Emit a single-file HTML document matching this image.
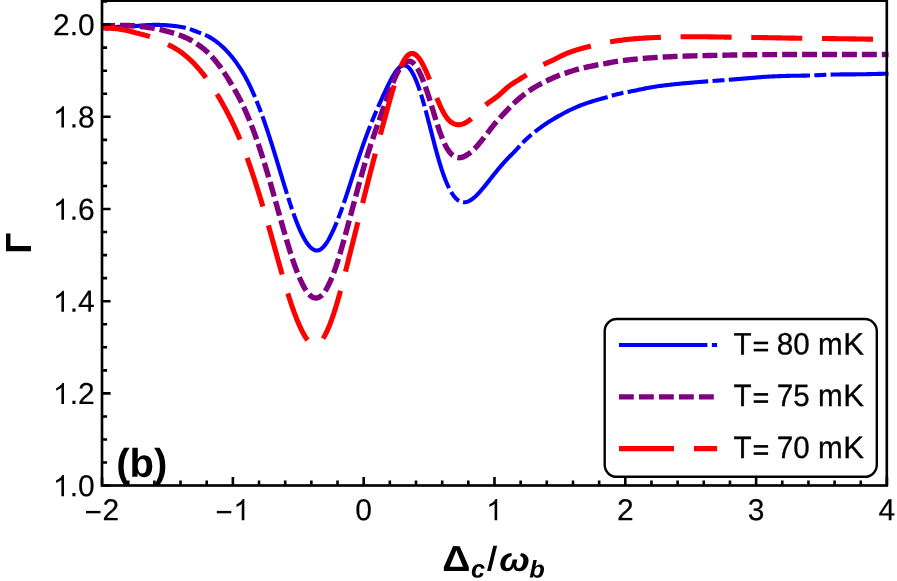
<!DOCTYPE html>
<html><head><meta charset="utf-8"><title>plot</title>
<style>html,body{margin:0;padding:0;background:#fff}svg{display:block;will-change:transform}text{font-family:"Liberation Sans",sans-serif}</style></head>
<body>
<svg width="897" height="581" viewBox="0 0 897 581">
<rect width="897" height="581" fill="#fff"/>
<defs><clipPath id="cp"><rect x="102.0" y="0" width="786.6999999999999" height="485.5"/></clipPath></defs>
<g clip-path="url(#cp)" fill="none" stroke-linejoin="round">
<path d="M100.50,29.48 L101.98,29.23 L103.47,28.99 L104.95,28.74 L106.43,28.50 L107.92,28.26 L109.40,28.03 L110.89,27.81 L112.38,27.59 L113.87,27.40 L115.36,27.21 L116.85,27.05 L118.35,26.91 L119.85,26.79 L121.35,26.69 L122.85,26.60 L124.35,26.53 L125.85,26.46 L127.35,26.40 L128.85,26.34 L130.36,26.29 L131.86,26.22 L133.36,26.16 L134.86,26.08 L136.36,25.99 L137.86,25.88 L139.36,25.76 L140.86,25.63 L142.35,25.50 L143.85,25.37 L145.35,25.25 L146.85,25.15 L148.35,25.06 L149.85,24.98 L151.35,24.93 L152.86,24.90 L154.36,24.88 L155.86,24.87 L157.36,24.88 L158.87,24.91 L160.37,24.95 L161.87,25.00 L163.37,25.07 L164.87,25.15 L166.37,25.25 L167.87,25.37 L169.37,25.49 L170.87,25.64 L172.36,25.79 L173.86,25.96 L175.35,26.15 L176.84,26.34 L178.33,26.55 L179.81,26.77 L181.30,27.00 L182.78,27.27 L184.25,27.57 L185.71,27.91 L187.17,28.30 L188.61,28.73 L190.04,29.19 L191.46,29.69 L192.87,30.20 L194.27,30.73 L195.68,31.27 L197.08,31.81 L198.48,32.35 L199.89,32.89 L201.29,33.42 L202.70,33.96 L204.09,34.52 L205.47,35.11 L206.84,35.73 L208.19,36.40 L209.51,37.12 L210.81,37.87 L212.09,38.65 L213.35,39.47 L214.59,40.32 L215.81,41.20 L217.01,42.11 L218.19,43.04 L219.35,44.00 L220.49,44.97 L221.61,45.97 L222.72,46.99 L223.81,48.03 L224.88,49.08 L225.93,50.15 L226.97,51.24 L227.99,52.34 L229.00,53.46 L229.99,54.59 L230.96,55.73 L231.92,56.89 L232.87,58.06 L233.80,59.24 L234.71,60.44 L235.61,61.64 L236.49,62.86 L237.36,64.09 L238.21,65.32 L239.05,66.57 L239.88,67.83 L240.69,69.09 L241.48,70.37 L242.27,71.65 L243.04,72.94 L243.79,74.24 L244.54,75.55 L245.27,76.86 L245.99,78.18 L246.69,79.51 L247.39,80.84 L248.07,82.18 L248.75,83.52 L249.41,84.87 L250.07,86.22 L250.72,87.58 L251.35,88.94 L251.98,90.30 L252.60,91.67 L253.22,93.05 L253.82,94.42 L254.42,95.80 L255.01,97.18 L255.59,98.57 L256.17,99.96 L256.74,101.35 L257.30,102.74 L257.86,104.14 L258.41,105.54 L258.95,106.94 L259.49,108.34 L260.02,109.75 L260.55,111.15 L261.07,112.56 L261.59,113.97 L262.11,115.39 L262.62,116.80 L263.12,118.22 L263.62,119.63 L264.12,121.05 L264.62,122.47 L265.11,123.89 L265.59,125.31 L266.08,126.74 L266.56,128.16 L267.04,129.58 L267.51,131.01 L267.99,132.44 L268.46,133.86 L268.92,135.29 L269.39,136.72 L269.85,138.15 L270.31,139.58 L270.77,141.02 L271.22,142.45 L271.67,143.88 L272.13,145.32 L272.58,146.75 L273.02,148.19 L273.47,149.62 L273.91,151.06 L274.36,152.49 L274.80,153.93 L275.24,155.37 L275.68,156.80 L276.12,158.24 L276.56,159.68 L276.99,161.12 L277.43,162.56 L277.87,163.99 L278.30,165.43 L278.74,166.87 L279.17,168.31 L279.61,169.75 L280.04,171.19 L280.48,172.63 L280.91,174.06 L281.35,175.50 L281.79,176.94 L282.22,178.38 L282.66,179.82 L283.10,181.26 L283.53,182.69 L283.97,184.13 L284.41,185.57 L284.86,187.01 L285.30,188.44 L285.74,189.88 L286.19,191.31 L286.64,192.75 L287.09,194.18 L287.54,195.61 L288.00,197.05 L288.46,198.48 L288.92,199.91 L289.38,201.34 L289.85,202.77 L290.31,204.20 L290.79,205.62 L291.26,207.05 L291.74,208.47 L292.23,209.90 L292.72,211.32 L293.21,212.74 L293.71,214.15 L294.22,215.57 L294.73,216.98 L295.25,218.39 L295.78,219.80 L296.31,221.21 L296.85,222.61 L297.41,224.00 L297.97,225.40 L298.55,226.79 L299.13,228.17 L299.73,229.55 L300.35,230.92 L300.98,232.29 L301.62,233.64 L302.29,234.99 L302.97,236.33 L303.68,237.65 L304.42,238.97 L305.18,240.26 L305.97,241.54 L306.80,242.79 L307.67,244.02 L308.59,245.20 L309.57,246.35 L310.61,247.43 L311.73,248.43 L312.95,249.31 L314.28,250.01 L315.71,250.47 L317.20,250.57 L318.68,250.30 L320.05,249.70 L321.31,248.88 L322.46,247.91 L323.51,246.84 L324.49,245.70 L325.40,244.51 L326.27,243.28 L327.09,242.02 L327.88,240.74 L328.64,239.44 L329.37,238.13 L330.08,236.80 L330.77,235.47 L331.44,234.12 L332.10,232.77 L332.74,231.41 L333.37,230.04 L333.98,228.67 L334.59,227.30 L335.18,225.92 L335.77,224.53 L336.34,223.15 L336.91,221.75 L337.47,220.36 L338.03,218.96 L338.57,217.56 L339.11,216.16 L339.64,214.75 L340.17,213.35 L340.69,211.94 L341.21,210.52 L341.72,209.11 L342.22,207.69 L342.72,206.28 L343.22,204.86 L343.71,203.44 L344.20,202.02 L344.68,200.59 L345.16,199.17 L345.64,197.74 L346.12,196.32 L346.59,194.89 L347.06,193.46 L347.53,192.03 L347.99,190.61 L348.46,189.18 L348.92,187.75 L349.39,186.32 L349.85,184.89 L350.31,183.46 L350.78,182.03 L351.24,180.60 L351.70,179.17 L352.16,177.73 L352.62,176.30 L353.08,174.87 L353.55,173.44 L354.01,172.01 L354.47,170.58 L354.94,169.16 L355.41,167.73 L355.87,166.30 L356.34,164.87 L356.81,163.44 L357.28,162.01 L357.76,160.59 L358.23,159.16 L358.71,157.74 L359.19,156.31 L359.67,154.89 L360.15,153.46 L360.63,152.04 L361.12,150.62 L361.61,149.20 L362.10,147.78 L362.60,146.36 L363.10,144.94 L363.60,143.52 L364.10,142.11 L364.61,140.69 L365.12,139.28 L365.63,137.87 L366.15,136.45 L366.67,135.05 L367.20,133.64 L367.73,132.23 L368.26,130.82 L368.80,129.42 L369.34,128.02 L369.89,126.62 L370.44,125.22 L371.00,123.83 L371.56,122.43 L372.13,121.04 L372.70,119.65 L373.28,118.26 L373.85,116.87 L374.44,115.49 L375.02,114.10 L375.61,112.72 L376.21,111.34 L376.80,109.96 L377.40,108.58 L378.00,107.20 L378.60,105.83 L379.21,104.45 L379.82,103.08 L380.42,101.70 L381.04,100.33 L381.65,98.96 L382.27,97.59 L382.89,96.22 L383.52,94.85 L384.15,93.49 L384.78,92.12 L385.42,90.76 L386.06,89.40 L386.71,88.05 L387.36,86.69 L388.02,85.34 L388.69,84.00 L389.37,82.65 L390.05,81.32 L390.75,79.99 L391.46,78.66 L392.19,77.35 L392.94,76.04 L393.71,74.75 L394.51,73.48 L395.34,72.23 L396.21,71.00 L397.13,69.81 L398.11,68.68 L399.18,67.62 L400.35,66.67 L401.64,65.91 L403.05,65.41 L404.55,65.33 L406.00,65.68 L407.32,66.41 L408.48,67.36 L409.51,68.45 L410.44,69.63 L411.29,70.87 L412.08,72.15 L412.82,73.46 L413.51,74.79 L414.18,76.14 L414.81,77.50 L415.41,78.88 L416.00,80.26 L416.56,81.66 L417.11,83.06 L417.64,84.46 L418.16,85.88 L418.66,87.29 L419.15,88.71 L419.64,90.14 L420.11,91.56 L420.57,92.99 L421.03,94.42 L421.47,95.86 L421.92,97.30 L422.35,98.74 L422.78,100.18 L423.20,101.62 L423.62,103.06 L424.03,104.51 L424.44,105.96 L424.84,107.40 L425.24,108.85 L425.64,110.30 L426.03,111.75 L426.42,113.20 L426.80,114.66 L427.19,116.11 L427.57,117.56 L427.95,119.02 L428.33,120.47 L428.71,121.93 L429.08,123.38 L429.46,124.84 L429.83,126.29 L430.21,127.75 L430.58,129.21 L430.95,130.66 L431.32,132.12 L431.70,133.58 L432.07,135.03 L432.44,136.49 L432.82,137.94 L433.19,139.40 L433.57,140.85 L433.95,142.31 L434.33,143.76 L434.71,145.22 L435.09,146.67 L435.48,148.12 L435.87,149.57 L436.26,151.03 L436.66,152.48 L437.06,153.92 L437.46,155.37 L437.87,156.82 L438.28,158.26 L438.70,159.71 L439.12,161.15 L439.55,162.59 L439.98,164.03 L440.42,165.47 L440.87,166.90 L441.32,168.34 L441.79,169.77 L442.26,171.19 L442.74,172.62 L443.24,174.04 L443.74,175.45 L444.26,176.86 L444.79,178.27 L445.33,179.67 L445.89,181.07 L446.47,182.45 L447.06,183.84 L447.67,185.21 L448.31,186.57 L448.97,187.92 L449.65,189.26 L450.37,190.58 L451.11,191.89 L451.90,193.17 L452.72,194.43 L453.59,195.65 L454.52,196.83 L455.51,197.96 L456.58,199.02 L457.72,200.00 L458.96,200.85 L460.28,201.55 L461.70,202.05 L463.18,202.31 L464.68,202.31 L466.16,202.08 L467.60,201.64 L468.98,201.05 L470.30,200.34 L471.57,199.52 L472.78,198.64 L473.95,197.70 L475.09,196.71 L476.19,195.68 L477.25,194.63 L478.30,193.55 L479.32,192.45 L480.33,191.33 L481.32,190.20 L482.29,189.05 L483.26,187.90 L484.21,186.74 L485.16,185.58 L486.11,184.41 L487.05,183.23 L487.98,182.05 L488.91,180.88 L489.84,179.70 L490.77,178.51 L491.70,177.33 L492.64,176.15 L493.57,174.98 L494.51,173.80 L495.45,172.63 L496.39,171.46 L497.34,170.29 L498.29,169.13 L499.25,167.97 L500.22,166.82 L501.19,165.68 L502.17,164.54 L503.16,163.41 L504.17,162.29 L505.18,161.18 L506.21,160.08 L507.24,158.99 L508.29,157.91 L509.34,156.84 L510.40,155.77 L511.46,154.71 L512.52,153.64 L513.58,152.57 L514.63,151.50 L515.67,150.42 L516.70,149.32 L517.72,148.22 L518.73,147.10 L519.74,145.98 L520.74,144.87 L521.76,143.76 L522.78,142.66 L523.83,141.58 L524.89,140.52 L525.97,139.47 L527.07,138.45 L528.18,137.44 L529.31,136.45 L530.45,135.47 L531.61,134.50 L532.77,133.55 L533.94,132.61 L535.12,131.68 L536.30,130.75 L537.49,129.83 L538.69,128.92 L539.89,128.02 L541.10,127.13 L542.32,126.25 L543.55,125.38 L544.78,124.53 L546.03,123.68 L547.28,122.86 L548.55,122.04 L549.82,121.24 L551.10,120.45 L552.38,119.67 L553.67,118.90 L554.97,118.14 L556.27,117.39 L557.57,116.64 L558.88,115.90 L560.19,115.16 L561.51,114.43 L562.83,113.71 L564.15,113.00 L565.48,112.30 L566.82,111.61 L568.16,110.94 L569.51,110.27 L570.86,109.62 L572.23,108.99 L573.59,108.36 L574.97,107.76 L576.35,107.16 L577.73,106.58 L579.13,106.01 L580.52,105.45 L581.92,104.91 L583.33,104.38 L584.74,103.87 L586.16,103.36 L587.58,102.87 L589.00,102.39 L590.43,101.93 L591.87,101.47 L593.30,101.03 L594.74,100.60 L596.19,100.18 L597.63,99.77 L599.08,99.37 L600.53,98.97 L601.98,98.59 L603.44,98.20 L604.89,97.81 L606.34,97.41 L607.78,96.99 L609.21,96.54 L610.64,96.07 L612.07,95.61 L613.51,95.18 L614.96,94.78 L616.42,94.40 L617.88,94.04 L619.34,93.71 L620.81,93.39 L622.28,93.08 L623.75,92.79 L625.23,92.50 L626.71,92.21 L628.18,91.93 L629.66,91.64 L631.13,91.35 L632.60,91.05 L634.08,90.75 L635.55,90.44 L637.02,90.14 L638.49,89.83 L639.96,89.52 L641.44,89.22 L642.91,88.92 L644.38,88.62 L645.86,88.33 L647.33,88.04 L648.81,87.76 L650.29,87.49 L651.77,87.23 L653.25,86.98 L654.73,86.74 L656.22,86.51 L657.71,86.29 L659.19,86.08 L660.68,85.87 L662.17,85.68 L663.66,85.49 L665.16,85.30 L666.65,85.13 L668.14,84.95 L669.64,84.79 L671.13,84.62 L672.62,84.46 L674.12,84.30 L675.61,84.15 L677.11,84.00 L678.60,83.85 L680.10,83.70 L681.60,83.55 L683.09,83.41 L684.59,83.26 L686.09,83.12 L687.58,82.99 L689.08,82.85 L690.58,82.72 L692.07,82.59 L693.57,82.46 L695.07,82.33 L696.57,82.20 L698.06,82.08 L699.56,81.96 L701.06,81.84 L702.56,81.72 L704.06,81.61 L705.56,81.49 L707.06,81.38 L708.55,81.27 L710.05,81.15 L711.55,81.04 L713.05,80.93 L714.55,80.82 L716.05,80.71 L717.55,80.61 L719.05,80.50 L720.55,80.39 L722.05,80.28 L723.55,80.17 L725.04,80.06 L726.54,79.95 L728.04,79.84 L729.54,79.72 L731.04,79.61 L732.54,79.50 L734.04,79.38 L735.54,79.26 L737.03,79.14 L738.53,79.02 L740.03,78.89 L741.53,78.77 L743.03,78.64 L744.52,78.51 L746.02,78.38 L747.52,78.25 L749.02,78.11 L750.51,77.98 L752.01,77.85 L753.51,77.72 L755.01,77.60 L756.50,77.47 L758.00,77.35 L759.50,77.24 L761.00,77.12 L762.50,77.01 L764.00,76.91 L765.50,76.81 L767.00,76.72 L768.50,76.63 L770.00,76.55 L771.50,76.47 L773.00,76.40 L774.50,76.33 L776.00,76.26 L777.51,76.20 L779.01,76.15 L780.51,76.09 L782.01,76.04 L783.52,76.00 L785.02,75.96 L786.52,75.92 L788.02,75.88 L789.53,75.85 L791.03,75.82 L792.53,75.79 L794.03,75.76 L795.54,75.74 L797.04,75.72 L798.54,75.70 L800.05,75.68 L801.55,75.66 L803.05,75.64 L804.56,75.61 L806.06,75.58 L807.56,75.55 L809.06,75.51 L810.57,75.46 L812.07,75.41 L813.57,75.35 L815.07,75.29 L816.57,75.22 L818.08,75.16 L819.58,75.09 L821.08,75.02 L822.58,74.95 L824.08,74.88 L825.58,74.82 L827.08,74.76 L828.59,74.70 L830.09,74.64 L831.59,74.60 L833.09,74.55 L834.60,74.52 L836.10,74.49 L837.60,74.46 L839.10,74.44 L840.61,74.42 L842.11,74.40 L843.61,74.39 L845.12,74.38 L846.62,74.37 L848.12,74.37 L849.63,74.36 L851.13,74.35 L852.63,74.35 L854.14,74.34 L855.64,74.33 L857.14,74.32 L858.64,74.31 L860.15,74.30 L861.65,74.28 L863.15,74.26 L864.66,74.23 L866.16,74.20 L867.66,74.17 L869.16,74.14 L870.67,74.10 L872.17,74.06 L873.67,74.02 L875.18,73.98 L876.68,73.94 L878.18,73.90 L879.68,73.86 L881.19,73.83 L882.69,73.79 L884.19,73.76 L885.69,73.74 L887.20,73.71 L888.70,73.70" stroke="#0000ff" stroke-width="4.1" stroke-dasharray="81.4 4.3 12 4.3" stroke-dashoffset="-4.29"/>
<path d="M100.50,25.77 L102.00,25.75 L103.51,25.74 L105.01,25.73 L106.51,25.71 L108.02,25.69 L109.52,25.67 L111.02,25.65 L112.53,25.62 L114.03,25.59 L115.53,25.55 L117.04,25.52 L118.54,25.49 L120.04,25.46 L121.55,25.44 L123.05,25.43 L124.55,25.44 L126.06,25.45 L127.56,25.49 L129.06,25.54 L130.56,25.61 L132.06,25.70 L133.56,25.80 L135.06,25.92 L136.56,26.05 L138.06,26.20 L139.55,26.35 L141.05,26.52 L142.54,26.70 L144.03,26.89 L145.52,27.08 L147.01,27.28 L148.50,27.50 L149.99,27.72 L151.47,27.95 L152.96,28.19 L154.44,28.45 L155.91,28.72 L157.39,29.01 L158.86,29.31 L160.33,29.63 L161.80,29.97 L163.26,30.31 L164.72,30.68 L166.18,31.05 L167.63,31.44 L169.08,31.84 L170.52,32.25 L171.97,32.67 L173.40,33.11 L174.84,33.57 L176.27,34.03 L177.69,34.52 L179.11,35.02 L180.52,35.54 L181.92,36.07 L183.32,36.63 L184.71,37.20 L186.09,37.79 L187.46,38.41 L188.82,39.06 L190.15,39.75 L191.47,40.47 L192.77,41.23 L194.05,42.02 L195.32,42.83 L196.57,43.66 L197.81,44.51 L199.04,45.37 L200.26,46.25 L201.47,47.14 L202.67,48.06 L203.85,48.99 L205.01,49.94 L206.14,50.93 L207.26,51.94 L208.34,52.98 L209.41,54.04 L210.45,55.12 L211.48,56.22 L212.48,57.34 L213.47,58.47 L214.45,59.61 L215.41,60.77 L216.36,61.94 L217.29,63.11 L218.22,64.30 L219.13,65.50 L220.02,66.70 L220.91,67.92 L221.77,69.15 L222.63,70.38 L223.48,71.62 L224.31,72.87 L225.14,74.13 L225.96,75.39 L226.77,76.65 L227.58,77.92 L228.38,79.20 L229.17,80.47 L229.96,81.75 L230.74,83.04 L231.52,84.33 L232.29,85.62 L233.05,86.91 L233.81,88.21 L234.55,89.52 L235.30,90.82 L236.04,92.13 L236.77,93.45 L237.49,94.77 L238.20,96.09 L238.91,97.42 L239.61,98.75 L240.30,100.08 L240.98,101.43 L241.65,102.77 L242.31,104.12 L242.96,105.47 L243.61,106.83 L244.24,108.20 L244.87,109.56 L245.49,110.93 L246.10,112.31 L246.70,113.68 L247.30,115.06 L247.88,116.45 L248.47,117.83 L249.04,119.22 L249.61,120.61 L250.17,122.01 L250.73,123.41 L251.27,124.81 L251.82,126.21 L252.36,127.61 L252.89,129.02 L253.41,130.43 L253.94,131.84 L254.45,133.25 L254.97,134.66 L255.47,136.08 L255.98,137.49 L256.48,138.91 L256.97,140.33 L257.46,141.75 L257.95,143.17 L258.44,144.60 L258.92,146.02 L259.39,147.45 L259.87,148.87 L260.34,150.30 L260.80,151.73 L261.27,153.16 L261.73,154.59 L262.19,156.02 L262.64,157.46 L263.10,158.89 L263.55,160.32 L263.99,161.76 L264.44,163.19 L264.88,164.63 L265.32,166.07 L265.76,167.51 L266.20,168.95 L266.63,170.39 L267.06,171.83 L267.49,173.27 L267.92,174.71 L268.35,176.15 L268.77,177.59 L269.20,179.03 L269.62,180.48 L270.04,181.92 L270.46,183.36 L270.88,184.81 L271.29,186.25 L271.71,187.70 L272.12,189.14 L272.53,190.59 L272.94,192.04 L273.35,193.48 L273.76,194.93 L274.17,196.38 L274.58,197.82 L274.98,199.27 L275.39,200.72 L275.80,202.17 L276.20,203.61 L276.61,205.06 L277.02,206.51 L277.42,207.95 L277.83,209.40 L278.24,210.85 L278.64,212.30 L279.05,213.74 L279.46,215.19 L279.87,216.64 L280.28,218.08 L280.69,219.53 L281.10,220.98 L281.51,222.42 L281.92,223.87 L282.33,225.32 L282.74,226.76 L283.16,228.21 L283.57,229.65 L283.99,231.10 L284.41,232.54 L284.82,233.98 L285.24,235.43 L285.67,236.87 L286.09,238.31 L286.52,239.76 L286.94,241.20 L287.37,242.64 L287.80,244.08 L288.24,245.52 L288.68,246.95 L289.12,248.39 L289.56,249.83 L290.01,251.26 L290.46,252.70 L290.92,254.13 L291.37,255.56 L291.84,256.99 L292.31,258.42 L292.78,259.85 L293.26,261.27 L293.75,262.69 L294.24,264.11 L294.75,265.53 L295.26,266.95 L295.77,268.36 L296.30,269.77 L296.84,271.17 L297.38,272.57 L297.94,273.97 L298.51,275.36 L299.09,276.74 L299.69,278.13 L300.29,279.50 L300.92,280.87 L301.55,282.23 L302.21,283.58 L302.89,284.92 L303.59,286.25 L304.32,287.57 L305.08,288.87 L305.88,290.14 L306.72,291.39 L307.61,292.60 L308.56,293.77 L309.58,294.87 L310.69,295.88 L311.90,296.77 L313.22,297.48 L314.66,297.93 L316.15,298.05 L317.63,297.82 L319.03,297.26 L320.30,296.47 L321.46,295.51 L322.51,294.43 L323.48,293.29 L324.38,292.08 L325.23,290.84 L326.03,289.57 L326.80,288.28 L327.53,286.96 L328.23,285.63 L328.90,284.29 L329.55,282.93 L330.18,281.57 L330.79,280.19 L331.38,278.81 L331.96,277.42 L332.52,276.03 L333.07,274.63 L333.60,273.22 L334.12,271.81 L334.63,270.40 L335.12,268.98 L335.61,267.55 L336.09,266.13 L336.56,264.70 L337.02,263.27 L337.48,261.84 L337.93,260.41 L338.38,258.97 L338.82,257.53 L339.26,256.09 L339.69,254.65 L340.12,253.21 L340.55,251.77 L340.97,250.33 L341.39,248.89 L341.81,247.44 L342.23,246.00 L342.64,244.55 L343.05,243.11 L343.46,241.66 L343.87,240.21 L344.28,238.77 L344.68,237.32 L345.08,235.87 L345.48,234.42 L345.88,232.97 L346.28,231.52 L346.67,230.07 L347.07,228.62 L347.46,227.17 L347.85,225.72 L348.24,224.26 L348.63,222.81 L349.02,221.36 L349.41,219.91 L349.80,218.46 L350.19,217.00 L350.58,215.55 L350.96,214.10 L351.35,212.64 L351.74,211.19 L352.12,209.74 L352.51,208.29 L352.90,206.83 L353.28,205.38 L353.67,203.93 L354.06,202.48 L354.45,201.02 L354.83,199.57 L355.22,198.12 L355.61,196.67 L356.00,195.21 L356.39,193.76 L356.78,192.31 L357.18,190.86 L357.57,189.41 L357.97,187.96 L358.36,186.51 L358.76,185.06 L359.16,183.61 L359.56,182.16 L359.96,180.71 L360.37,179.26 L360.77,177.81 L361.18,176.37 L361.59,174.92 L362.00,173.47 L362.41,172.03 L362.83,170.58 L363.24,169.14 L363.66,167.70 L364.09,166.25 L364.51,164.81 L364.94,163.37 L365.37,161.93 L365.80,160.49 L366.23,159.05 L366.67,157.61 L367.11,156.17 L367.56,154.74 L368.00,153.30 L368.45,151.87 L368.91,150.43 L369.36,149.00 L369.82,147.57 L370.29,146.14 L370.76,144.71 L371.23,143.28 L371.70,141.86 L372.18,140.43 L372.66,139.01 L373.14,137.58 L373.63,136.16 L374.12,134.74 L374.61,133.32 L375.10,131.90 L375.59,130.48 L376.09,129.06 L376.58,127.64 L377.08,126.22 L377.58,124.80 L378.08,123.38 L378.58,121.97 L379.08,120.55 L379.58,119.13 L380.08,117.71 L380.58,116.29 L381.08,114.88 L381.58,113.46 L382.08,112.04 L382.58,110.62 L383.09,109.21 L383.59,107.79 L384.09,106.37 L384.59,104.96 L385.10,103.54 L385.60,102.12 L386.11,100.71 L386.62,99.29 L387.13,97.88 L387.65,96.47 L388.16,95.06 L388.68,93.65 L389.21,92.24 L389.74,90.83 L390.27,89.42 L390.81,88.02 L391.35,86.62 L391.90,85.22 L392.46,83.82 L393.03,82.43 L393.61,81.04 L394.19,79.66 L394.79,78.28 L395.41,76.91 L396.04,75.54 L396.69,74.19 L397.36,72.84 L398.06,71.51 L398.79,70.20 L399.55,68.90 L400.36,67.64 L401.22,66.40 L402.14,65.22 L403.14,64.09 L404.23,63.06 L405.44,62.16 L406.77,61.48 L408.23,61.11 L409.72,61.17 L411.15,61.63 L412.43,62.41 L413.58,63.38 L414.62,64.47 L415.56,65.64 L416.43,66.87 L417.24,68.13 L418.00,69.43 L418.72,70.75 L419.40,72.09 L420.06,73.44 L420.69,74.81 L421.30,76.18 L421.89,77.56 L422.46,78.95 L423.02,80.35 L423.57,81.75 L424.10,83.15 L424.62,84.56 L425.13,85.98 L425.63,87.40 L426.13,88.82 L426.61,90.24 L427.09,91.66 L427.57,93.09 L428.04,94.52 L428.50,95.95 L428.96,97.38 L429.41,98.81 L429.86,100.25 L430.31,101.68 L430.75,103.12 L431.19,104.56 L431.63,106.00 L432.07,107.43 L432.51,108.87 L432.95,110.31 L433.39,111.75 L433.82,113.19 L434.26,114.62 L434.70,116.06 L435.15,117.50 L435.59,118.93 L436.04,120.37 L436.49,121.80 L436.95,123.24 L437.41,124.67 L437.87,126.10 L438.34,127.52 L438.82,128.95 L439.31,130.37 L439.80,131.79 L440.31,133.21 L440.82,134.62 L441.35,136.03 L441.90,137.43 L442.46,138.83 L443.03,140.21 L443.63,141.59 L444.25,142.96 L444.90,144.32 L445.57,145.66 L446.28,146.99 L447.03,148.29 L447.81,149.57 L448.65,150.82 L449.55,152.03 L450.51,153.19 L451.55,154.27 L452.68,155.26 L453.91,156.13 L455.23,156.84 L456.64,157.35 L458.12,157.64 L459.62,157.69 L461.11,157.52 L462.56,157.15 L463.97,156.62 L465.32,155.95 L466.62,155.20 L467.87,154.37 L469.10,153.50 L470.29,152.58 L471.44,151.62 L472.57,150.62 L473.66,149.59 L474.73,148.53 L475.77,147.44 L476.78,146.33 L477.77,145.20 L478.75,144.06 L479.71,142.90 L480.66,141.74 L481.60,140.56 L482.53,139.39 L483.47,138.21 L484.39,137.02 L485.32,135.84 L486.24,134.65 L487.16,133.47 L488.08,132.28 L489.00,131.09 L489.93,129.90 L490.85,128.71 L491.77,127.53 L492.70,126.35 L493.64,125.17 L494.59,124.01 L495.56,122.85 L496.53,121.71 L497.52,120.58 L498.52,119.45 L499.53,118.34 L500.54,117.23 L501.56,116.12 L502.57,115.01 L503.60,113.91 L504.62,112.81 L505.65,111.71 L506.68,110.62 L507.71,109.53 L508.76,108.44 L509.80,107.36 L510.85,106.29 L511.91,105.22 L512.98,104.17 L514.07,103.13 L515.17,102.11 L516.29,101.10 L517.42,100.10 L518.55,99.12 L519.70,98.14 L520.85,97.18 L522.01,96.22 L523.17,95.27 L524.35,94.34 L525.54,93.42 L526.75,92.52 L527.97,91.65 L529.20,90.79 L530.45,89.95 L531.71,89.13 L532.98,88.33 L534.27,87.54 L535.56,86.77 L536.86,86.01 L538.16,85.27 L539.48,84.54 L540.80,83.82 L542.13,83.12 L543.47,82.43 L544.81,81.76 L546.16,81.10 L547.51,80.45 L548.87,79.81 L550.24,79.18 L551.61,78.56 L552.98,77.94 L554.36,77.33 L555.73,76.73 L557.12,76.15 L558.51,75.57 L559.91,75.02 L561.31,74.49 L562.73,73.98 L564.16,73.51 L565.59,73.07 L567.03,72.63 L568.46,72.16 L569.88,71.68 L571.30,71.19 L572.73,70.71 L574.17,70.26 L575.61,69.84 L577.06,69.43 L578.51,69.05 L579.97,68.68 L581.43,68.33 L582.89,67.98 L584.36,67.65 L585.82,67.32 L587.29,67.00 L588.76,66.68 L590.23,66.37 L591.71,66.07 L593.18,65.77 L594.65,65.48 L596.13,65.20 L597.61,64.92 L599.09,64.65 L600.57,64.39 L602.05,64.12 L603.53,63.85 L605.01,63.58 L606.48,63.30 L607.96,63.02 L609.44,62.74 L610.91,62.46 L612.39,62.19 L613.87,61.93 L615.36,61.69 L616.84,61.45 L618.33,61.22 L619.82,61.00 L621.30,60.79 L622.79,60.59 L624.28,60.40 L625.78,60.21 L627.27,60.03 L628.76,59.86 L630.26,59.69 L631.75,59.53 L633.25,59.37 L634.74,59.22 L636.24,59.08 L637.74,58.93 L639.23,58.79 L640.73,58.66 L642.23,58.53 L643.73,58.40 L645.22,58.28 L646.72,58.16 L648.22,58.04 L649.72,57.93 L651.22,57.82 L652.72,57.71 L654.22,57.61 L655.72,57.51 L657.22,57.42 L658.72,57.32 L660.22,57.23 L661.72,57.15 L663.22,57.06 L664.72,56.98 L666.23,56.90 L667.73,56.83 L669.23,56.75 L670.73,56.68 L672.23,56.61 L673.73,56.55 L675.24,56.48 L676.74,56.42 L678.24,56.36 L679.74,56.30 L681.25,56.25 L682.75,56.19 L684.25,56.14 L685.75,56.09 L687.26,56.04 L688.76,56.00 L690.26,55.95 L691.76,55.91 L693.27,55.87 L694.77,55.83 L696.27,55.79 L697.78,55.75 L699.28,55.71 L700.78,55.68 L702.28,55.65 L703.79,55.61 L705.29,55.58 L706.79,55.55 L708.30,55.51 L709.80,55.48 L711.30,55.45 L712.81,55.42 L714.31,55.39 L715.81,55.36 L717.32,55.33 L718.82,55.30 L720.32,55.27 L721.83,55.24 L723.33,55.21 L724.83,55.18 L726.33,55.15 L727.84,55.12 L729.34,55.09 L730.84,55.06 L732.35,55.03 L733.85,55.01 L735.35,54.98 L736.86,54.95 L738.36,54.93 L739.86,54.90 L741.37,54.88 L742.87,54.86 L744.37,54.84 L745.88,54.82 L747.38,54.80 L748.88,54.78 L750.39,54.76 L751.89,54.74 L753.39,54.73 L754.90,54.71 L756.40,54.70 L757.90,54.68 L759.41,54.67 L760.91,54.66 L762.41,54.65 L763.92,54.64 L765.42,54.63 L766.92,54.62 L768.43,54.61 L769.93,54.60 L771.43,54.59 L772.94,54.58 L774.44,54.58 L775.94,54.57 L777.45,54.56 L778.95,54.56 L780.45,54.55 L781.96,54.55 L783.46,54.54 L784.96,54.54 L786.47,54.53 L787.97,54.53 L789.47,54.52 L790.98,54.52 L792.48,54.52 L793.98,54.51 L795.49,54.51 L796.99,54.51 L798.49,54.50 L800.00,54.50 L801.50,54.50 L803.00,54.49 L804.51,54.49 L806.01,54.49 L807.52,54.48 L809.02,54.48 L810.52,54.48 L812.03,54.48 L813.53,54.47 L815.03,54.47 L816.54,54.47 L818.04,54.46 L819.54,54.46 L821.05,54.46 L822.55,54.46 L824.05,54.46 L825.56,54.45 L827.06,54.45 L828.56,54.45 L830.07,54.45 L831.57,54.45 L833.07,54.45 L834.58,54.45 L836.08,54.45 L837.58,54.45 L839.09,54.45 L840.59,54.45 L842.09,54.45 L843.60,54.45 L845.10,54.45 L846.60,54.45 L848.11,54.45 L849.61,54.45 L851.11,54.45 L852.62,54.45 L854.12,54.45 L855.62,54.45 L857.13,54.45 L858.63,54.45 L860.13,54.45 L861.64,54.45 L863.14,54.45 L864.65,54.45 L866.15,54.45 L867.65,54.45 L869.16,54.45 L870.66,54.45 L872.16,54.45 L873.67,54.45 L875.17,54.45 L876.67,54.45 L878.18,54.45 L879.68,54.45 L881.18,54.45 L882.69,54.45 L884.19,54.45 L885.69,54.45 L887.20,54.45 L888.70,54.45" stroke="#800080" stroke-width="5.4" stroke-dasharray="15 4.93" stroke-dashoffset="0.41"/>
<path d="M100.50,27.84 L102.00,27.89 L103.50,27.94 L105.01,27.99 L106.51,28.04 L108.01,28.10 L109.51,28.17 L111.01,28.25 L112.51,28.34 L114.01,28.45 L115.51,28.59 L117.00,28.74 L118.49,28.92 L119.98,29.13 L121.47,29.37 L122.94,29.64 L124.42,29.94 L125.89,30.26 L127.35,30.60 L128.81,30.96 L130.26,31.34 L131.72,31.72 L133.17,32.11 L134.62,32.49 L136.08,32.87 L137.53,33.25 L138.98,33.63 L140.44,34.01 L141.90,34.38 L143.35,34.75 L144.81,35.12 L146.26,35.51 L147.71,35.92 L149.14,36.35 L150.57,36.82 L151.99,37.31 L153.40,37.83 L154.80,38.38 L156.20,38.94 L157.58,39.53 L158.95,40.14 L160.32,40.76 L161.68,41.40 L163.04,42.05 L164.39,42.71 L165.73,43.38 L167.07,44.06 L168.41,44.74 L169.75,45.43 L171.08,46.13 L172.40,46.85 L173.71,47.58 L175.01,48.33 L176.30,49.10 L177.58,49.89 L178.84,50.71 L180.08,51.56 L181.31,52.43 L182.52,53.32 L183.71,54.23 L184.89,55.17 L186.05,56.12 L187.19,57.10 L188.32,58.09 L189.43,59.10 L190.53,60.12 L191.62,61.16 L192.69,62.22 L193.74,63.29 L194.79,64.37 L195.81,65.47 L196.83,66.57 L197.83,67.70 L198.82,68.83 L199.79,69.97 L200.76,71.13 L201.71,72.29 L202.65,73.46 L203.58,74.64 L204.49,75.83 L205.40,77.03 L206.30,78.23 L207.20,79.44 L208.08,80.66 L208.95,81.88 L209.81,83.11 L210.67,84.35 L211.51,85.59 L212.35,86.84 L213.18,88.09 L214.00,89.36 L214.80,90.62 L215.60,91.89 L216.39,93.17 L217.18,94.46 L217.95,95.74 L218.72,97.04 L219.47,98.34 L220.22,99.64 L220.97,100.94 L221.71,102.25 L222.44,103.56 L223.17,104.88 L223.90,106.19 L224.62,107.51 L225.34,108.83 L226.05,110.15 L226.76,111.48 L227.46,112.81 L228.16,114.14 L228.85,115.47 L229.54,116.81 L230.22,118.15 L230.90,119.49 L231.57,120.84 L232.23,122.18 L232.89,123.54 L233.54,124.89 L234.18,126.25 L234.81,127.61 L235.44,128.98 L236.06,130.35 L236.68,131.72 L237.29,133.09 L237.89,134.47 L238.48,135.85 L239.07,137.23 L239.65,138.62 L240.23,140.00 L240.80,141.40 L241.36,142.79 L241.92,144.18 L242.48,145.58 L243.02,146.98 L243.57,148.38 L244.10,149.79 L244.64,151.19 L245.16,152.60 L245.69,154.01 L246.21,155.42 L246.72,156.83 L247.23,158.24 L247.74,159.66 L248.24,161.07 L248.73,162.49 L249.23,163.91 L249.72,165.33 L250.21,166.75 L250.69,168.18 L251.17,169.60 L251.65,171.02 L252.13,172.45 L252.61,173.88 L253.08,175.30 L253.55,176.73 L254.02,178.16 L254.48,179.59 L254.95,181.02 L255.41,182.45 L255.87,183.88 L256.33,185.31 L256.78,186.74 L257.24,188.17 L257.69,189.60 L258.14,191.04 L258.59,192.47 L259.04,193.91 L259.49,195.34 L259.93,196.78 L260.37,198.21 L260.82,199.65 L261.26,201.09 L261.69,202.53 L262.13,203.96 L262.56,205.40 L263.00,206.84 L263.43,208.28 L263.86,209.72 L264.28,211.16 L264.71,212.60 L265.13,214.05 L265.56,215.49 L265.98,216.93 L266.40,218.37 L266.81,219.82 L267.23,221.26 L267.65,222.71 L268.06,224.15 L268.47,225.60 L268.88,227.04 L269.29,228.49 L269.70,229.93 L270.11,231.38 L270.51,232.83 L270.92,234.27 L271.32,235.72 L271.73,237.17 L272.13,238.62 L272.53,240.06 L272.94,241.51 L273.34,242.96 L273.74,244.41 L274.14,245.86 L274.54,247.30 L274.94,248.75 L275.35,250.20 L275.75,251.65 L276.15,253.10 L276.55,254.55 L276.95,255.99 L277.36,257.44 L277.76,258.89 L278.16,260.34 L278.57,261.78 L278.97,263.23 L279.38,264.68 L279.79,266.13 L280.19,267.57 L280.60,269.02 L281.01,270.46 L281.43,271.91 L281.84,273.35 L282.25,274.80 L282.67,276.24 L283.09,277.69 L283.51,279.13 L283.93,280.57 L284.36,282.01 L284.78,283.45 L285.21,284.89 L285.64,286.33 L286.08,287.77 L286.52,289.21 L286.96,290.65 L287.40,292.08 L287.85,293.52 L288.30,294.95 L288.75,296.38 L289.21,297.82 L289.67,299.25 L290.14,300.67 L290.61,302.10 L291.09,303.53 L291.57,304.95 L292.05,306.37 L292.55,307.79 L293.05,309.21 L293.55,310.62 L294.06,312.04 L294.58,313.45 L295.11,314.85 L295.65,316.26 L296.19,317.66 L296.74,319.06 L297.31,320.45 L297.88,321.84 L298.46,323.22 L299.06,324.60 L299.67,325.98 L300.29,327.35 L300.93,328.71 L301.58,330.06 L302.25,331.40 L302.95,332.74 L303.66,334.06 L304.40,335.37 L305.17,336.66 L305.98,337.92 L306.84,339.16 L307.75,340.36 L308.72,341.50 L309.78,342.56 L310.95,343.51 L312.24,344.28 L313.65,344.78 L315.14,344.91 L316.61,344.62 L317.97,343.98 L319.19,343.10 L320.28,342.07 L321.28,340.95 L322.19,339.75 L323.04,338.51 L323.83,337.24 L324.58,335.93 L325.29,334.61 L325.98,333.27 L326.63,331.92 L327.27,330.56 L327.88,329.19 L328.48,327.81 L329.06,326.42 L329.62,325.03 L330.17,323.63 L330.71,322.23 L331.23,320.82 L331.75,319.40 L332.25,317.99 L332.75,316.57 L333.23,315.15 L333.71,313.72 L334.18,312.29 L334.64,310.86 L335.09,309.43 L335.54,308.00 L335.98,306.56 L336.42,305.12 L336.85,303.68 L337.28,302.24 L337.70,300.80 L338.11,299.35 L338.52,297.91 L338.93,296.46 L339.34,295.02 L339.74,293.57 L340.13,292.12 L340.53,290.67 L340.92,289.22 L341.31,287.76 L341.69,286.31 L342.08,284.86 L342.46,283.40 L342.84,281.95 L343.21,280.50 L343.59,279.04 L343.96,277.58 L344.34,276.13 L344.71,274.67 L345.08,273.22 L345.45,271.76 L345.81,270.30 L346.18,268.85 L346.55,267.39 L346.91,265.93 L347.28,264.47 L347.65,263.01 L348.01,261.56 L348.38,260.10 L348.74,258.64 L349.11,257.18 L349.47,255.73 L349.84,254.27 L350.20,252.81 L350.57,251.35 L350.94,249.89 L351.30,248.44 L351.67,246.98 L352.03,245.52 L352.40,244.07 L352.77,242.61 L353.13,241.15 L353.50,239.69 L353.87,238.24 L354.23,236.78 L354.60,235.32 L354.96,233.86 L355.33,232.40 L355.70,230.95 L356.06,229.49 L356.43,228.03 L356.79,226.57 L357.15,225.11 L357.52,223.66 L357.88,222.20 L358.24,220.74 L358.61,219.28 L358.97,217.82 L359.33,216.36 L359.69,214.91 L360.06,213.45 L360.42,211.99 L360.78,210.53 L361.14,209.07 L361.51,207.61 L361.87,206.15 L362.23,204.70 L362.59,203.24 L362.96,201.78 L363.32,200.32 L363.68,198.86 L364.05,197.41 L364.41,195.95 L364.78,194.49 L365.14,193.03 L365.51,191.57 L365.87,190.12 L366.24,188.66 L366.61,187.20 L366.98,185.74 L367.35,184.29 L367.72,182.83 L368.09,181.38 L368.46,179.92 L368.83,178.46 L369.21,177.01 L369.58,175.55 L369.95,174.10 L370.33,172.64 L370.71,171.19 L371.08,169.73 L371.46,168.28 L371.84,166.82 L372.22,165.37 L372.60,163.91 L372.98,162.46 L373.36,161.01 L373.74,159.55 L374.13,158.10 L374.51,156.65 L374.89,155.19 L375.28,153.74 L375.66,152.29 L376.05,150.84 L376.43,149.38 L376.82,147.93 L377.21,146.48 L377.60,145.03 L377.98,143.58 L378.37,142.12 L378.76,140.67 L379.15,139.22 L379.54,137.77 L379.93,136.32 L380.32,134.87 L380.71,133.42 L381.11,131.96 L381.50,130.51 L381.89,129.06 L382.28,127.61 L382.68,126.16 L383.07,124.71 L383.46,123.26 L383.86,121.81 L384.25,120.36 L384.65,118.91 L385.05,117.46 L385.44,116.01 L385.84,114.56 L386.24,113.11 L386.64,111.67 L387.04,110.22 L387.44,108.77 L387.84,107.32 L388.25,105.87 L388.65,104.43 L389.06,102.98 L389.47,101.53 L389.88,100.09 L390.29,98.64 L390.71,97.20 L391.13,95.75 L391.55,94.31 L391.97,92.87 L392.39,91.43 L392.82,89.99 L393.26,88.55 L393.69,87.11 L394.14,85.67 L394.58,84.24 L395.03,82.81 L395.49,81.37 L395.95,79.94 L396.43,78.52 L396.90,77.09 L397.39,75.67 L397.89,74.25 L398.40,72.84 L398.92,71.43 L399.46,70.03 L400.02,68.63 L400.59,67.24 L401.18,65.86 L401.81,64.49 L402.46,63.14 L403.15,61.80 L403.88,60.49 L404.66,59.21 L405.51,57.97 L406.43,56.78 L407.46,55.69 L408.61,54.72 L409.91,53.97 L411.35,53.55 L412.84,53.56 L414.28,54.00 L415.58,54.75 L416.74,55.69 L417.79,56.77 L418.75,57.92 L419.64,59.13 L420.47,60.39 L421.26,61.67 L422.00,62.97 L422.72,64.29 L423.41,65.63 L424.07,66.98 L424.72,68.33 L425.35,69.70 L425.97,71.07 L426.57,72.45 L427.16,73.83 L427.75,75.21 L428.32,76.60 L428.89,77.99 L429.45,79.38 L430.01,80.78 L430.57,82.17 L431.12,83.57 L431.67,84.97 L432.22,86.37 L432.77,87.77 L433.32,89.17 L433.87,90.57 L434.42,91.97 L434.97,93.36 L435.52,94.76 L436.08,96.15 L436.65,97.55 L437.21,98.94 L437.79,100.33 L438.37,101.71 L438.96,103.10 L439.57,104.47 L440.18,105.84 L440.81,107.21 L441.45,108.57 L442.12,109.91 L442.81,111.25 L443.52,112.57 L444.27,113.88 L445.05,115.16 L445.87,116.42 L446.74,117.64 L447.67,118.83 L448.66,119.96 L449.72,121.02 L450.87,121.99 L452.11,122.84 L453.43,123.55 L454.83,124.10 L456.28,124.47 L457.77,124.66 L459.27,124.66 L460.77,124.48 L462.23,124.14 L463.65,123.65 L465.02,123.04 L466.34,122.31 L467.61,121.51 L468.83,120.64 L470.02,119.72 L471.17,118.76 L472.30,117.76 L473.41,116.75 L474.50,115.71 L475.57,114.66 L476.64,113.60 L477.70,112.54 L478.76,111.48 L479.83,110.41 L480.89,109.36 L481.97,108.31 L483.06,107.28 L484.17,106.26 L485.31,105.27 L486.47,104.32 L487.65,103.40 L488.86,102.51 L490.09,101.64 L491.32,100.78 L492.56,99.93 L493.80,99.07 L495.02,98.20 L496.23,97.30 L497.42,96.38 L498.58,95.44 L499.72,94.46 L500.84,93.45 L501.93,92.42 L503.02,91.38 L504.10,90.34 L505.20,89.32 L506.33,88.32 L507.48,87.36 L508.67,86.43 L509.87,85.54 L511.10,84.67 L512.34,83.83 L513.60,83.00 L514.86,82.19 L516.13,81.39 L517.41,80.59 L518.69,79.80 L519.97,79.01 L521.24,78.22 L522.52,77.42 L523.79,76.61 L525.05,75.81 L526.32,74.99 L527.58,74.17 L528.83,73.35 L530.09,72.53 L531.35,71.70 L532.61,70.88 L533.87,70.07 L535.14,69.26 L536.41,68.47 L537.70,67.68 L538.99,66.92 L540.29,66.17 L541.61,65.45 L542.94,64.75 L544.29,64.09 L545.65,63.46 L547.03,62.84 L548.40,62.24 L549.78,61.63 L551.15,61.01 L552.51,60.37 L553.86,59.71 L555.20,59.03 L556.53,58.35 L557.87,57.66 L559.21,56.97 L560.55,56.29 L561.90,55.63 L563.25,54.98 L564.62,54.36 L566.00,53.76 L567.39,53.19 L568.78,52.63 L570.19,52.10 L571.60,51.58 L573.02,51.09 L574.45,50.61 L575.88,50.15 L577.31,49.71 L578.75,49.28 L580.20,48.87 L581.65,48.47 L583.10,48.08 L584.55,47.70 L586.01,47.32 L587.47,46.96 L588.93,46.60 L590.39,46.25 L591.85,45.90 L593.31,45.56 L594.77,45.21 L596.24,44.87 L597.70,44.53 L599.17,44.20 L600.63,43.88 L602.10,43.55 L603.57,43.24 L605.04,42.94 L606.52,42.64 L607.99,42.35 L609.47,42.07 L610.95,41.80 L612.43,41.54 L613.91,41.29 L615.39,41.05 L616.88,40.82 L618.36,40.60 L619.85,40.38 L621.34,40.18 L622.83,39.99 L624.32,39.80 L625.81,39.63 L627.31,39.46 L628.80,39.30 L630.30,39.15 L631.79,39.00 L633.29,38.86 L634.79,38.73 L636.29,38.61 L637.78,38.49 L639.28,38.38 L640.78,38.28 L642.28,38.18 L643.78,38.09 L645.28,38.00 L646.78,37.92 L648.28,37.84 L649.78,37.76 L651.29,37.69 L652.79,37.63 L654.29,37.56 L655.79,37.50 L657.29,37.44 L658.79,37.39 L660.29,37.33 L661.80,37.28 L663.30,37.23 L664.80,37.18 L666.30,37.13 L667.81,37.09 L669.31,37.04 L670.81,37.00 L672.31,36.96 L673.81,36.93 L675.32,36.89 L676.82,36.86 L678.32,36.83 L679.82,36.81 L681.33,36.79 L682.83,36.77 L684.33,36.75 L685.84,36.74 L687.34,36.73 L688.84,36.72 L690.34,36.72 L691.85,36.72 L693.35,36.72 L694.85,36.72 L696.36,36.73 L697.86,36.73 L699.36,36.74 L700.86,36.75 L702.37,36.77 L703.87,36.78 L705.37,36.80 L706.88,36.82 L708.38,36.84 L709.88,36.86 L711.38,36.88 L712.89,36.90 L714.39,36.93 L715.89,36.95 L717.39,36.97 L718.90,37.00 L720.40,37.02 L721.90,37.05 L723.40,37.07 L724.91,37.10 L726.41,37.12 L727.91,37.14 L729.42,37.17 L730.92,37.19 L732.42,37.21 L733.92,37.22 L735.43,37.24 L736.93,37.26 L738.43,37.27 L739.93,37.29 L741.44,37.30 L742.94,37.32 L744.44,37.33 L745.95,37.35 L747.45,37.36 L748.95,37.38 L750.45,37.40 L751.96,37.42 L753.46,37.44 L754.96,37.46 L756.46,37.48 L757.97,37.50 L759.47,37.53 L760.97,37.55 L762.48,37.58 L763.98,37.60 L765.48,37.63 L766.98,37.66 L768.49,37.69 L769.99,37.72 L771.49,37.74 L772.99,37.77 L774.50,37.80 L776.00,37.83 L777.50,37.86 L779.00,37.89 L780.51,37.92 L782.01,37.95 L783.51,37.98 L785.01,38.01 L786.52,38.04 L788.02,38.06 L789.52,38.09 L791.02,38.12 L792.53,38.14 L794.03,38.17 L795.53,38.20 L797.04,38.22 L798.54,38.24 L800.04,38.27 L801.54,38.29 L803.05,38.31 L804.55,38.33 L806.05,38.35 L807.55,38.36 L809.06,38.38 L810.56,38.40 L812.06,38.41 L813.57,38.43 L815.07,38.44 L816.57,38.46 L818.07,38.47 L819.58,38.49 L821.08,38.50 L822.58,38.52 L824.08,38.53 L825.59,38.55 L827.09,38.56 L828.59,38.58 L830.10,38.59 L831.60,38.61 L833.10,38.63 L834.60,38.64 L836.11,38.66 L837.61,38.68 L839.11,38.69 L840.62,38.71 L842.12,38.73 L843.62,38.75 L845.12,38.77 L846.63,38.79 L848.13,38.81 L849.63,38.83 L851.13,38.85 L852.64,38.87 L854.14,38.89 L855.64,38.91 L857.15,38.93 L858.65,38.96 L860.15,38.98 L861.65,39.00 L863.16,39.03 L864.66,39.05 L866.16,39.08 L867.66,39.10 L869.17,39.13 L870.67,39.15 L872.17,39.18 L873.67,39.21 L875.18,39.24 L876.68,39.26 L878.18,39.29 L879.68,39.32 L881.19,39.35 L882.69,39.38 L884.19,39.41 L885.69,39.44 L887.20,39.47 L888.70,39.50" stroke="#ff0000" stroke-width="5.1" stroke-dasharray="51.0 19.72" stroke-dashoffset="0.58"/>
</g>
<rect x="102.0" y="0.65" width="784.8" height="484.85" fill="none" stroke="#000" stroke-width="2.65"/>
<path d="M102.06,485.50v-8.6M128.22,485.50v-5.1M154.38,485.50v-5.1M180.55,485.50v-5.1M206.71,485.50v-5.1M232.87,485.50v-8.6M259.03,485.50v-5.1M285.19,485.50v-5.1M311.36,485.50v-5.1M337.52,485.50v-5.1M363.68,485.50v-8.6M389.84,485.50v-5.1M416.00,485.50v-5.1M442.17,485.50v-5.1M468.33,485.50v-5.1M494.49,485.50v-8.6M520.65,485.50v-5.1M546.81,485.50v-5.1M572.98,485.50v-5.1M599.14,485.50v-5.1M625.30,485.50v-8.6M651.46,485.50v-5.1M677.62,485.50v-5.1M703.79,485.50v-5.1M729.95,485.50v-5.1M756.11,485.50v-8.6M782.27,485.50v-5.1M808.43,485.50v-5.1M834.60,485.50v-5.1M860.76,485.50v-5.1M886.92,485.50v-8.6M102.00,485.60h8.6M102.00,462.55h5.1M102.00,439.50h5.1M102.00,416.45h5.1M102.00,393.40h8.6M102.00,370.35h5.1M102.00,347.30h5.1M102.00,324.25h5.1M102.00,301.20h8.6M102.00,278.15h5.1M102.00,255.10h5.1M102.00,232.05h5.1M102.00,209.00h8.6M102.00,185.95h5.1M102.00,162.90h5.1M102.00,139.85h5.1M102.00,116.80h8.6M102.00,93.75h5.1M102.00,70.70h5.1M102.00,47.65h5.1M102.00,24.60h8.6M102.00,1.55h5.1" stroke="#000" stroke-width="2.6" fill="none"/>
<g font-size="30.0" fill="#000" stroke="#000" stroke-width="0.2">
<path transform="translate(52.95,496.25) scale(0.01450,-0.01438)" d="M763,0L583,0L583,1147Q518,1085 412.5,1023Q307,961 223,930L223,1104Q374,1175 487,1276Q600,1377 647,1472L763,1472Z" stroke="none"/>
<text transform="translate(69.63,496.25) rotate(0.04) scale(1,1.015)">.0</text>
<path transform="translate(52.95,404.05) scale(0.01450,-0.01438)" d="M763,0L583,0L583,1147Q518,1085 412.5,1023Q307,961 223,930L223,1104Q374,1175 487,1276Q600,1377 647,1472L763,1472Z" stroke="none"/>
<text transform="translate(69.63,404.05) rotate(0.04) scale(1,1.015)">.2</text>
<path transform="translate(52.95,311.85) scale(0.01450,-0.01438)" d="M763,0L583,0L583,1147Q518,1085 412.5,1023Q307,961 223,930L223,1104Q374,1175 487,1276Q600,1377 647,1472L763,1472Z" stroke="none"/>
<text transform="translate(69.63,311.85) rotate(0.04) scale(1,1.015)">.4</text>
<path transform="translate(52.95,219.65) scale(0.01450,-0.01438)" d="M763,0L583,0L583,1147Q518,1085 412.5,1023Q307,961 223,930L223,1104Q374,1175 487,1276Q600,1377 647,1472L763,1472Z" stroke="none"/>
<text transform="translate(69.63,219.65) rotate(0.04) scale(1,1.015)">.6</text>
<path transform="translate(52.95,127.45) scale(0.01450,-0.01438)" d="M763,0L583,0L583,1147Q518,1085 412.5,1023Q307,961 223,930L223,1104Q374,1175 487,1276Q600,1377 647,1472L763,1472Z" stroke="none"/>
<text transform="translate(69.63,127.45) rotate(0.04) scale(1,1.015)">.8</text>
<text transform="translate(52.95,35.25) rotate(0.04) scale(1,1.015)">2.0</text>
<rect x="86.00" y="510.90" width="14.5" height="2.4" stroke="none"/>
<text transform="translate(102.48,520.25) rotate(0.04) scale(1,1.015)">2</text>
<rect x="216.81" y="510.90" width="14.5" height="2.4" stroke="none"/>
<path transform="translate(233.29,520.25) scale(0.01450,-0.01438)" d="M763,0L583,0L583,1147Q518,1085 412.5,1023Q307,961 223,930L223,1104Q374,1175 487,1276Q600,1377 647,1472L763,1472Z" stroke="none"/>
<text transform="translate(355.34,520.25) rotate(0.04) scale(1,1.015)">0</text>
<path transform="translate(486.15,520.25) scale(0.01450,-0.01438)" d="M763,0L583,0L583,1147Q518,1085 412.5,1023Q307,961 223,930L223,1104Q374,1175 487,1276Q600,1377 647,1472L763,1472Z" stroke="none"/>
<text transform="translate(616.96,520.25) rotate(0.04) scale(1,1.015)">2</text>
<text transform="translate(747.77,520.25) rotate(0.04) scale(1,1.015)">3</text>
<text transform="translate(878.58,520.25) rotate(0.04) scale(1,1.015)">4</text>
</g>
<text transform="translate(116.2,476.8) rotate(0.04)" font-size="40" font-weight="bold">(b)</text>
<path d="M6,251.25V233.55H10.45V246.1H31V251.25Z" fill="#000"/>
<text transform="translate(442.2,570.9) rotate(0.04) scale(1.083,1)" font-size="36.2" font-weight="bold">Δ</text>
<text transform="translate(471.0,577.55) rotate(0.04) scale(1.01,1)" font-size="25" font-weight="bold" font-style="italic">c</text>
<path d="M487.1,570.9H490.9L497.1,545.7H493.3Z" fill="#000"/>
<text transform="translate(499.3,571.0) rotate(0.04) scale(1.09,1)" font-size="33.6" font-weight="bold" font-style="italic">ω</text>
<text transform="translate(529.2,577.5) rotate(0.04) scale(1.055,1)" font-size="24.1" font-weight="bold" font-style="italic">b</text>
<rect x="604.7" y="319.05" width="272.1" height="157.75" rx="12" ry="12" fill="#fff" stroke="#000" stroke-width="2.4"/>
<path d="M619,345H717.1" stroke="#0000ff" stroke-width="4.1" stroke-dasharray="88.4 4.5 11 4.5" fill="none"/>
<path d="M619,396.8H717.1" stroke="#800080" stroke-width="5.2" stroke-dasharray="14.8 5.2" fill="none"/>
<path d="M619,448.6H717.1" stroke="#ff0000" stroke-width="5.2" stroke-dasharray="55 20" fill="none"/>
<g font-size="29.6" fill="#000" stroke="#000" stroke-width="0.3">
<text transform="translate(733.59,354.5) rotate(0.04) scale(1,1.046)">T</text>
<rect x="753.7" y="341.65" width="14.4" height="2.6" stroke="none"/><rect x="753.7" y="348.80" width="14.4" height="2.6" stroke="none"/>
<text transform="translate(776.86,354.5) rotate(0.04) scale(1,1.046)">80 m</text>
<text transform="translate(843.35,354.5) rotate(0.04) scale(1.05,1.046)">K</text>
<text transform="translate(733.59,405.95) rotate(0.04) scale(1,1.046)">T</text>
<rect x="753.7" y="393.10" width="14.4" height="2.6" stroke="none"/><rect x="753.7" y="400.25" width="14.4" height="2.6" stroke="none"/>
<text transform="translate(776.86,405.95) rotate(0.04) scale(1,1.046)">75 m</text>
<text transform="translate(843.35,405.95) rotate(0.04) scale(1.05,1.046)">K</text>
<text transform="translate(733.59,457.95) rotate(0.04) scale(1,1.046)">T</text>
<rect x="753.7" y="445.10" width="14.4" height="2.6" stroke="none"/><rect x="753.7" y="452.25" width="14.4" height="2.6" stroke="none"/>
<text transform="translate(776.86,457.95) rotate(0.04) scale(1,1.046)">70 m</text>
<text transform="translate(843.35,457.95) rotate(0.04) scale(1.05,1.046)">K</text>
</g>
</svg>
</body></html>
